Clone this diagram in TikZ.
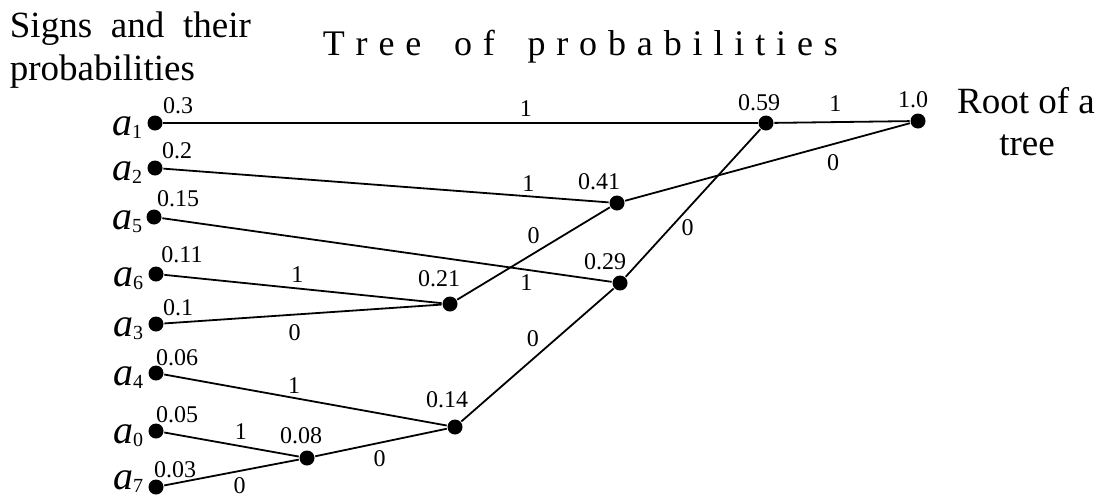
\documentclass[tikz,border=0pt]{standalone}
\usepackage{fontspec}
\setmainfont{Liberation Serif}
\usetikzlibrary{positioning}

\newcommand{\sgn}[1]{\textit{a}\raisebox{-3pt}{\fontsize{20}{20}\selectfont #1}}

\tikzset{
  dot/.style={circle,fill,inner sep=0pt,minimum size=15pt},
  val/.style={font=\fontsize{24}{26}\selectfont,inner sep=1pt},
  bit/.style={font=\fontsize{24}{26}\selectfont,inner sep=1pt,fill=white},
  sig/.style={font=\fontsize{40}{42}\selectfont,anchor=base east,inner sep=0pt},
  big/.style={font=\fontsize{37}{43}\selectfont,inner sep=0pt},
}

\begin{document}
\begin{tikzpicture}[x=1pt,y=-1pt,line width=1.8pt]
\useasboundingbox (0,0) rectangle (1102,499);

% headings
\node[big,anchor=base west] (head1) at (9,37) {\makebox[241pt][s]{Signs and their}};
\node[big,anchor=base west] (head2) at (9,80) {probabilities};
\node[font=\fontsize{36}{40}\selectfont,inner sep=0pt,anchor=base west] (title) at (322,55)
  {\hbox to 515pt{T\hfill r\hfill e\hfill e\hfill\hfill\hfill o\hfill f\hfill\hfill\hfill p\hfill r\hfill o\hfill b\hfill a\hfill b\hfill i\hfill l\hfill i\hfill t\hfill i\hfill e\hfill s}};
\node[big,anchor=base] (root1) at (1026,113) {Root of a};
\node[big,anchor=base] (root2) at (1027,155) {tree};

% signs (leaves)
\node[dot] (a1) at (155,123) {};
\node[dot] (a2) at (155,168) {};
\node[dot] (a5) at (154,217) {};
\node[dot] (a6) at (156,274) {};
\node[dot] (a3) at (156,324) {};
\node[dot] (a4) at (156,373) {};
\node[dot] (a0) at (156,431) {};
\node[dot] (a7) at (156,487) {};

% inner vertices and root
\node[dot] (n08) at (307,458) {};
\node[dot] (n14) at (455,427) {};
\node[dot] (n21) at (450,304) {};
\node[dot] (n29) at (620,283) {};
\node[dot] (n41) at (617,203) {};
\node[dot] (n59) at (766,123) {};
\node[dot] (r) at (918,121) {};

% names of the signs
\node[sig] (s1) at (143,135) {\sgn{1}};
\node[sig] (s2) at (143,180) {\sgn{2}};
\node[sig] (s5) at (143,229) {\sgn{5}};
\node[sig] (s6) at (144,286) {\sgn{6}};
\node[sig] (s3) at (144,336) {\sgn{3}};
\node[sig] (s4) at (144,385) {\sgn{4}};
\node[sig] (s0) at (144,443) {\sgn{0}};
\node[sig] (s7) at (144,489) {\sgn{7}};

% edges with code bits
\draw (a1) -- node[bit,pos=.61,above=5pt] (e1) {1} (n59);
\draw (a2) -- node[bit,pos=.82,above=3pt] (e2) {1} (n41);
\draw (n21) -- node[bit,pos=.5,above=8pt] (e3) {0} (n41);
\draw (a5) -- node[bit,pos=.81,below=3pt] (e4) {1} (n29);
\draw (n29) -- node[bit,pos=.46,below=9pt] (e5) {0} (n59);
\draw (n41) -- node[bit,pos=.73,below=8pt] (e6) {0} (r);
\draw (n59) -- node[bit,pos=.45,above=9pt] (e7) {1} (r);
\draw (a6) -- node[bit,pos=.48,above=4.5pt] (e8) {1} (n21);
\draw (a3) -- node[bit,pos=.47,below=8pt] (e9) {0} (n21);
\draw (a4) -- node[bit,pos=.46,above=2.5pt] (e10) {1} (n14);
\draw (n14) -- node[bit,pos=.47,above=10pt] (e11) {0} (n29);
\draw (a0) -- node[bit,pos=.57,above=5pt] (e12) {1} (n08);
\draw (n08) -- node[bit,pos=.49,below=6pt] (e13) {0} (n14);
\draw (a7) -- node[bit,pos=.56,below=5pt] (e14) {0} (n08);

% probabilities
\node[val] (p1) at (178,106) {0.3};
\node[val] (p2) at (177,151) {0.2};
\node[val] (p5) at (178,199) {0.15};
\node[val] (p6) at (182,255) {0.11};
\node[val] (p3) at (178,308) {0.1};
\node[val] (p4) at (177,358) {0.06};
\node[val] (p0) at (177,415) {0.05};
\node[val] (p7) at (175,470) {0.03};
\node[val] (p08) at (301,436) {0.08};
\node[val] (p14) at (447,400) {0.14};
\node[val] (p21) at (439,279) {0.21};
\node[val] (p29) at (605,262) {0.29};
\node[val] (p41) at (599,182) {0.41};
\node[val] (p59) at (759,103) {0.59};
\node[val] (pr) at (913,100) {1.0};
\end{tikzpicture}
\end{document}
